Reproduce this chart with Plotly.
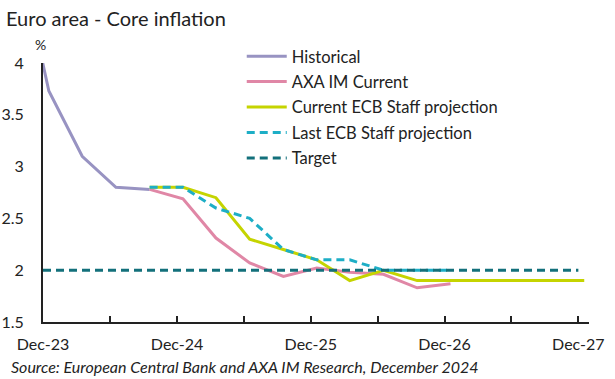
import plotly.graph_objects as go

# ---- data ----
hist_dates = ["2023-09-17", "2023-12-17", "2024-03-17", "2024-06-17", "2024-09-17"]
hist_vals = [5.2, 3.73, 3.10, 2.80, 2.78]

axa_dates = ["2024-09-17", "2024-12-17", "2025-03-17", "2025-06-17", "2025-09-17",
             "2025-12-17", "2026-03-17", "2026-06-17", "2026-09-17", "2026-12-17"]
axa_vals = [2.78, 2.69, 2.31, 2.07, 1.94, 2.02, 1.98, 1.96, 1.83, 1.87]

ecb_cur_dates = ["2024-09-17", "2024-12-17", "2025-03-17", "2025-06-17", "2025-09-17",
                 "2025-12-17", "2026-03-17", "2026-06-17", "2026-09-17", "2026-12-17",
                 "2027-03-17", "2027-06-17", "2027-09-17", "2027-12-17"]
ecb_cur_vals = [2.8, 2.8, 2.7, 2.3, 2.2, 2.1, 1.9, 2.0, 1.9, 1.9, 1.9, 1.9, 1.9, 1.9]

ecb_last_dates = ["2024-09-17", "2024-12-17", "2025-03-17", "2025-06-17", "2025-09-17",
                  "2025-12-17", "2026-03-17", "2026-06-17", "2026-09-17", "2026-12-17"]
ecb_last_vals = [2.8, 2.8, 2.6, 2.5, 2.2, 2.1, 2.1, 2.0, 2.0, 2.0]

target_dates = ["2023-12-01", "2027-12-01"]
target_vals = [2.0, 2.0]

tick_dates = ["2023-12-01", "2024-06-01", "2024-12-01", "2025-06-01", "2025-12-01",
              "2026-06-01", "2026-12-01", "2027-06-01", "2027-12-01"]
tick_labels = ["Dec-23", "", "Dec-24", "", "Dec-25", "", "Dec-26", "", "Dec-27"]

FONT = "Lato"

fig = go.Figure()
fig.add_trace(go.Scatter(x=hist_dates, y=hist_vals, name="Historical", mode="lines",
                         legendgroup="a", line=dict(color="#9893C2", width=3)))
fig.add_trace(go.Scatter(x=axa_dates, y=axa_vals, name="AXA IM Current", mode="lines",
                         legendgroup="b", line=dict(color="#E087A6", width=3)))
fig.add_trace(go.Scatter(x=ecb_cur_dates, y=ecb_cur_vals, name="Current ECB Staff projection",
                         legendgroup="c", mode="lines", line=dict(color="#C5D400", width=3)))
fig.add_trace(go.Scatter(x=ecb_last_dates, y=ecb_last_vals, name="Last ECB Staff projection",
                         legendgroup="d", mode="lines",
                         line=dict(color="#1DAEC6", width=3, dash="8px,5px")))
fig.add_trace(go.Scatter(x=target_dates, y=target_vals, name="Target", mode="lines",
                         legendgroup="e", line=dict(color="#13707B", width=3, dash="8px,5px")))

fig.update_layout(
    width=615, height=379,
    margin=dict(l=43, r=26, t=63, b=57),
    paper_bgcolor="white", plot_bgcolor="white",
    font=dict(family=FONT, size=16, color="#222222"),
    showlegend=True,
    legend=dict(x=0.364, y=1.093, xanchor="left", yanchor="top",
                bgcolor="rgba(0,0,0,0)", font=dict(size=16.5, color="#222222"),
                tracegroupgap=1, itemwidth=40),
    xaxis=dict(type="date", range=["2023-12-01", "2027-12-30"], automargin=False,
               tickmode="array", tickvals=tick_dates, ticktext=tick_labels,
               showgrid=False, zeroline=False, showline=True, linecolor="#222222",
               linewidth=2, ticks="inside", ticklen=6, tickcolor="#222222", tickwidth=1.5,
               ticklabelstandoff=7, tickfont=dict(size=16)),
    yaxis=dict(range=[1.5, 4], tickvals=[1.5, 2, 2.5, 3, 3.5, 4], automargin=False,
               ticktext=["1.5", "2", "2.5", "3", "3.5", "4"],
               showgrid=False, zeroline=False, showline=True, linecolor="#222222",
               linewidth=2, ticks="", ticklabelstandoff=14, tickfont=dict(size=16)),
    annotations=[
        dict(text="Euro area - Core inflation", xref="paper", yref="paper",
             x=-0.071, y=1.174, xanchor="left", yanchor="middle", showarrow=False,
             font=dict(size=20, color="#222222")),
        dict(text="%", xref="paper", yref="paper", x=-0.005, y=1.07,
             xanchor="center", yanchor="middle", showarrow=False,
             font=dict(size=14, color="#222222")),
        dict(text="<i>Source: European Central Bank and AXA IM Research, December 2024</i>",
             xref="paper", yref="paper", x=-0.0625, y=-0.17, xanchor="left",
             yanchor="middle", showarrow=False, font=dict(size=16, color="#222222")),
    ],
)

fig.write_html("out.html", config={"displayModeBar": False},
               post_script="document.body.style.margin='0px';")
